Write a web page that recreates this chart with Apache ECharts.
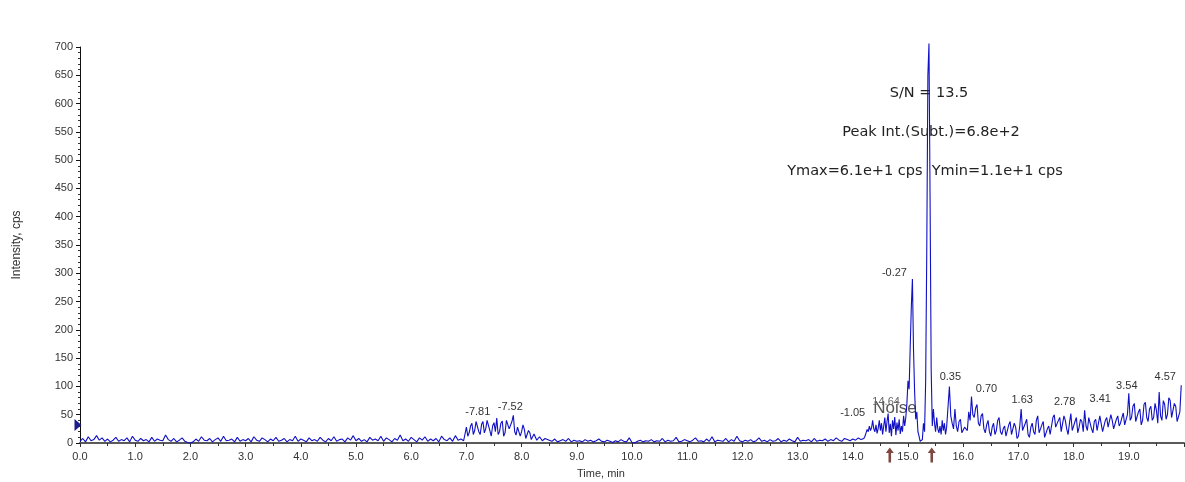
<!DOCTYPE html>
<html>
<head>
<meta charset="utf-8">
<script src="https://cdn.jsdelivr.net/npm/echarts@6/dist/echarts.min.js"></script>
<style>
  html, body { margin: 0; padding: 0; background: #fff; }
  #chart { width: 1185px; height: 482px; }
</style>
</head>
<body>
<div id="chart"></div>
<script>
// Extracted ion chromatogram: intensity (cps) sampled on a regular time grid (min).
const stepCoarse = 0.05;
const stepMedium = 0.025;
const stepFine = 0.02;

// 0.00 – 6.95 min, baseline noise
const traceEarly = [
  3,8,2,11,4,6,13,5,9,3,7,2,5,10,3,6,4,9,2,12,
  5,3,8,4,6,2,10,3,7,5,4,14,6,3,8,2,5,9,3,1,
  0,2,7,3,11,5,4,8,2,6,9,3,12,4,5,7,2,10,3,6,
  4,8,2,11,5,3,9,6,2,7,4,10,3,5,8,2,6,4,12,3,
  7,5,2,9,4,6,3,10,5,2,8,4,11,3,6,7,2,9,5,13,
  4,8,3,6,2,10,5,7,4,12,3,9,6,2,8,5,14,4,7,3,
  10,6,2,9,5,11,3,7,4,8,2,12,6,4,9,3,13,5,7,4
];
// 7.00 – 8.45 min, raised cluster
const traceHump = [
  28,12,18,30,35,15,22,38,40,20,15,33,38,18,25,40,42,22,12,30,
  36,20,44,15,20,35,39,12,18,40,42,25,24,38,49,20,14,28,30,12,
  20,32,24,8,10,22,18,6,8,16,15,5,6,11,12,4,5,8,9
];
// 8.50 – 14.15 min, quiet baseline
const traceMid = [
  5,3,7,2,4,6,3,8,2,5,
  3,4,2,6,3,5,2,4,7,3,
  2,5,3,1,4,2,6,3,2,9,
  1,0,3,5,2,4,3,6,2,4,
  3,8,2,5,3,4,10,2,3,6,
  4,2,5,9,3,4,2,7,3,11,
  2,5,4,3,8,2,6,3,12,4,
  2,5,3,6,2,4,9,3,5,2,
  6,3,4,8,2,5,3,7,4,2,
  10,3,5,4,6,2,8,3,5,4,
  7,3,6,4,9,5,3,8,6,4,
  7,5,9,6
];
// 14.20 – 15.70 min, fine sampling across the two peaks
const tracePeaks = [
  8,12,18,24,20,30,22,27,40,25,
  20,32,17,26,40,22,35,15,30,45,
  20,38,52,18,34,12,40,25,46,14,
  36,22,42,16,30,20,48,30,45,70,
  110,95,170,240,290,165,90,42,55,20,
  12,3,0,6,35,20,110,340,650,706,
  430,130,30,60,35,20,45,25,18,30,
  15,40,22,35,15,28
];
// 15.75 – 19.95 min, elevated noisy baseline
const traceLate = [
  100,48,35,25,60,30,20,38,42,18,15,28,30,22,55,40,82,50,45,62,
  68,35,30,48,52,25,18,32,40,20,12,28,35,15,22,40,45,20,15,25,
  30,12,10,32,38,15,18,35,28,8,12,30,60,22,20,35,42,15,10,28,
  35,20,15,40,48,18,20,32,38,10,12,25,30,15,18,45,50,28,25,40,
  45,20,22,48,40,25,15,35,52,22,20,38,45,18,28,42,38,20,58,30,
  22,45,48,25,18,38,42,22,25,48,50,20,20,40,45,28,30,50,40,25,
  22,42,48,30,35,45,53,32,30,50,88,40,45,65,70,38,35,55,60,32,
  40,68,72,45,38,60,65,40,45,70,58,35,90,48,40,75,68,42,50,80,
  75,45,42,70,65,38,35,55,102
];

const segments = [
  { start: 0.00, step: stepCoarse, values: traceEarly },
  { start: 7.00, step: stepMedium, values: traceHump },
  { start: 8.50, step: stepCoarse, values: traceMid },
  { start: 14.20, step: stepFine, values: tracePeaks },
  { start: 15.75, step: stepMedium, values: traceLate }
];

// Peak annotations (tag text, apex time in min)
const peakTags  = ['-7.81', '-7.52', '-1.05', '14.64', '-0.27', '15.37', '0.35', '0.70', '1.63', '2.78', '3.41', '3.54', '4.57'];
const peakTimes = [7.55, 7.85, 14.36, 14.64, 15.08, 15.38, 15.75, 16.15, 17.05, 18.20, 18.90, 19.00, 19.95];

// Integration window markers and noise level
const windowTimes = [14.67, 15.43];
const noiseLevel = 32;

const resultLines = [
  'S/N = 13.5',
  'Peak Int.(Subt.)=6.8e+2',
  'Ymax=6.1e+1 cps  Ymin=1.1e+1 cps'
];

// Build the trace
const points = [];
segments.forEach(seg => {
  seg.values.forEach((v, i) => {
    points.push([+(seg.start + i * seg.step).toFixed(3), v]);
  });
});

function valueAt(t) {
  let best = points[0];
  points.forEach(p => { if (Math.abs(p[0] - t) < Math.abs(best[0] - t)) best = p; });
  return best[1];
}

// label placement relative to each apex (px)
const tagOffsets = [
  [-19, -6], [-3, -8], [-20, -7], [-2, -12], [-18, -6], [3, -9],
  [1, -9], [15, -8], [1, -9], [-20, -8], [-23, -14], [-2, -7], [-16, -8]
];

const textFont = 'Liberation Sans, Arial, sans-serif';

const tagMarks = peakTags.map((tag, i) => ({
  coord: [peakTimes[i], valueAt(peakTimes[i])],
  symbol: 'circle',
  symbolSize: 1,
  itemStyle: { color: 'rgba(0,0,0,0)' },
  label: {
    show: true,
    formatter: tag,
    position: 'inside',
    offset: tagOffsets[i],
    fontFamily: textFont,
    fontSize: 11,
    color: i === 3 ? '#666' : '#333'
  }
}));

const noiseMark = {
  coord: [0, noiseLevel],
  symbol: 'triangle',
  symbolRotate: -90,
  symbolSize: [12, 7],
  symbolOffset: [-2, 0],
  itemStyle: { color: '#1c1c8a' },
  label: { show: false }
};

const arrowPath = 'path://M5,0 L10,6 L6.6,6 L6.6,16 L3.4,16 L3.4,6 L0,6 Z';

const chart = echarts.init(document.getElementById('chart'), null, { renderer: 'canvas' });

chart.setOption({
  animation: false,
  backgroundColor: '#ffffff',
  grid: { left: 80, right: 1, top: 47, bottom: 39, containLabel: false, outerBoundsMode: 'none' },
  xAxis: {
    type: 'value',
    min: 0,
    max: 20,
    interval: 1,
    name: 'Time, min',
    nameLocation: 'middle',
    nameGap: 25,
    nameTextStyle: { fontFamily: textFont, fontSize: 11, color: '#333', padding: [0, 62, 0, 0] },
    axisLine: { show: true, onZero: false, lineStyle: { color: '#5a5a5a', width: 2 } },
    axisTick: { show: true, length: 4, lineStyle: { color: '#333', width: 1 } },
    minorTick: { show: true, splitNumber: 2, length: 3, lineStyle: { color: '#333', width: 1 } },
    axisLabel: {
      fontFamily: textFont, fontSize: 11, color: '#333', margin: 8,
      showMaxLabel: false,
      formatter: v => v.toFixed(1)
    },
    splitLine: { show: false }
  },
  yAxis: {
    type: 'value',
    min: 0,
    max: 700,
    interval: 50,
    name: 'Intensity, cps',
    nameLocation: 'middle',
    nameGap: 57,
    nameRotate: 90,
    nameTextStyle: { fontFamily: textFont, fontSize: 12, color: '#333' },
    axisLine: { show: true, lineStyle: { color: '#111', width: 1 } },
    axisTick: { show: true, length: 4, lineStyle: { color: '#111' } },
    minorTick: { show: true, splitNumber: 5, length: 2, lineStyle: { color: '#333' } },
    axisLabel: { fontFamily: textFont, fontSize: 11, color: '#333', margin: 7 },
    splitLine: { show: false }
  },
  series: [
    {
      type: 'line',
      data: points,
      showSymbol: false,
      clip: false,
      lineStyle: { color: '#1010c4', width: 1.1 },
      markPoint: {
        silent: true,
        animation: false,
        data: tagMarks.concat([noiseMark])
      }
    },
    {
      // integration window arrows under the time axis
      type: 'scatter',
      clip: false,
      silent: true,
      symbol: arrowPath,
      symbolSize: [8, 15],
      itemStyle: { color: '#5e1a10' },
      data: windowTimes.map(t => [t, -21]),
      z: 5
    }
  ],
  graphic: [
    {
      type: 'text', x: 929, y: 93,
      style: { text: resultLines[0], font: '14.5px "DejaVu Sans", sans-serif', fill: '#222', textAlign: 'center', textVerticalAlign: 'middle' }
    },
    {
      type: 'text', x: 931, y: 132,
      style: { text: resultLines[1], font: '14.5px "DejaVu Sans", sans-serif', fill: '#222', textAlign: 'center', textVerticalAlign: 'middle' }
    },
    {
      type: 'text', x: 925, y: 171,
      style: { text: resultLines[2], font: '14.5px "DejaVu Sans", sans-serif', fill: '#222', textAlign: 'center', textVerticalAlign: 'middle' }
    },
    {
      type: 'text', x: 895, y: 408,
      style: { text: 'Noise', font: '17px "Liberation Sans", Arial, sans-serif', fill: '#555', textAlign: 'center', textVerticalAlign: 'middle' }
    }
  ]
});
</script>
</body>
</html>
